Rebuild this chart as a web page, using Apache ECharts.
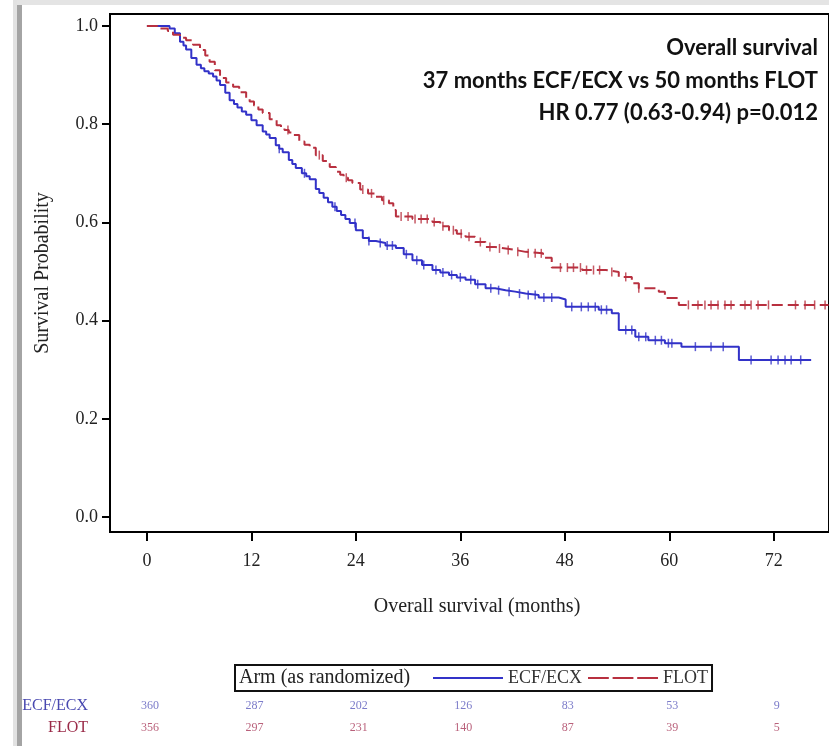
<!DOCTYPE html>
<html><head><meta charset="utf-8">
<script src="https://cdn.jsdelivr.net/npm/echarts@6/dist/echarts.min.js"></script>
<style>html,body{margin:0;padding:0;background:#fff}#c{width:829px;height:746px}</style>
</head><body><div id="c"></div>
<script>
// ---- data ----
const xTicks = [0, 12, 24, 36, 48, 60, 72];
const yTicks = [0, 0.2, 0.4, 0.6, 0.8, 1.0];
const armNames = ['ECF/ECX', 'FLOT'];
const ecfCurve = [[0,1.0],[1.5,1.0],[2.6,0.995],[3.2,0.985],[3.8,0.968],[4.2,0.96],[4.5,0.952],[5.1,0.935],[5.7,0.921],[6.2,0.914],[6.6,0.908],[7.1,0.903],[7.6,0.897],[8.0,0.889],[8.4,0.880],[9.0,0.864],[9.5,0.849],[10.0,0.841],[10.4,0.834],[10.9,0.826],[11.4,0.819],[12.0,0.808],[12.6,0.798],[13.3,0.785],[13.7,0.779],[14.1,0.772],[14.8,0.757],[15.2,0.75],[15.6,0.743],[16.3,0.727],[16.7,0.719],[17.1,0.711],[17.8,0.700],[18.3,0.694],[18.7,0.688],[19.4,0.668],[19.8,0.66],[20.3,0.650],[20.8,0.641],[21.3,0.632],[21.8,0.623],[22.3,0.615],[22.8,0.607],[23.3,0.599],[24.0,0.584],[24.8,0.568],[25.5,0.562],[26.3,0.558],[27.4,0.553],[28.6,0.548],[29.5,0.535],[30.5,0.523],[31.6,0.513],[32.8,0.503],[33.7,0.498],[34.7,0.493],[35.6,0.488],[36.6,0.483],[37.7,0.474],[38.9,0.466],[40.0,0.462],[41.2,0.459],[42.3,0.455],[43.5,0.452],[45.0,0.447],[47.3,0.443],[48.1,0.428],[51.9,0.422],[53.4,0.415],[54.2,0.381],[56.1,0.367],[57.6,0.360],[59.5,0.354],[61.4,0.347],[68.0,0.320],[76.3,0.320]];
const flotCurve = [[0,1.0],[1.2,0.995],[2.4,0.99],[3.0,0.982],[3.8,0.976],[4.5,0.971],[5.3,0.962],[6.1,0.951],[6.7,0.94],[7.2,0.927],[7.8,0.91],[8.4,0.894],[9.1,0.885],[9.9,0.876],[10.6,0.865],[11.4,0.853],[11.8,0.846],[12.3,0.838],[12.8,0.83],[13.3,0.823],[14.1,0.81],[14.9,0.798],[15.4,0.793],[15.8,0.788],[16.3,0.783],[16.8,0.778],[17.5,0.765],[18.1,0.758],[18.7,0.752],[19.4,0.737],[20.2,0.725],[21.0,0.713],[21.7,0.703],[22.2,0.697],[22.6,0.691],[23.1,0.686],[23.6,0.680],[24.5,0.667],[25.4,0.659],[26.3,0.652],[27.0,0.645],[27.8,0.639],[28.3,0.625],[28.6,0.612],[30.5,0.607],[32.8,0.601],[33.7,0.592],[34.7,0.584],[35.6,0.577],[36.6,0.571],[37.7,0.560],[38.9,0.550],[40.0,0.547],[41.2,0.544],[42.3,0.540],[43.5,0.537],[45.5,0.528],[46.5,0.508],[50.0,0.503],[52.7,0.499],[54.2,0.489],[55.7,0.476],[56.5,0.466],[58.8,0.459],[59.5,0.446],[61.1,0.432],[78.3,0.432]];
const ecfCensorTimes = [15.2,18.1,21.6,23.9,25.5,26.8,27.6,28.2,29.8,31.0,31.8,33.2,34.0,35.0,36.0,37.2,38.0,39.5,40.4,41.6,42.8,43.8,44.6,45.6,46.5,48.8,49.9,50.7,51.5,52.2,52.8,55.0,55.7,56.5,57.3,58.4,59.1,59.9,60.3,63.0,64.8,66.2,69.4,71.7,72.5,73.3,74.0,75.1];
const flotCensorTimes = [16.2,19.8,22.9,24.8,25.8,27.2,29.2,30.0,30.8,31.5,32.2,33.0,34.0,35.2,36.1,37.0,38.3,39.4,40.5,41.5,42.6,43.8,44.6,45.3,47.5,48.3,49.0,49.8,50.5,51.3,52.0,53.4,55.0,56.5,62.2,63.3,64.1,64.8,65.6,66.4,67.1,68.7,69.4,70.2,71.4,74.5,75.6,76.7,77.9];
const riskTimes = [0, 12, 24, 36, 48, 60, 72];
const ecfAtRisk = [360, 287, 202, 126, 83, 53, 9];
const flotAtRisk = [356, 297, 231, 140, 87, 39, 5];
const annotationLines = ['Overall survival', '37 months ECF/ECX vs 50 months FLOT', 'HR 0.77 (0.63-0.94) p=0.012'];
const legendTitle = 'Arm (as randomized)';
const xTitle = 'Overall survival (months)';
const yTitle = 'Survival Probability';

// ---- styling ----
const BLUE = '#3232c8', RED = '#b8303f';
const SERIF = '"Liberation Serif", "Times New Roman", serif';
const X_MIN = -4.24, X_MAX = 78.35, Y_MIN = -0.0305, Y_MAX = 1.0244;

function survAt(curve, t) {
  let v = curve[0][1];
  for (const p of curve) { if (p[0] <= t) v = p[1]; else break; }
  return v;
}

const chart = echarts.init(document.getElementById('c'), null, {renderer: 'canvas'});
const option = {
  animation: false,
  backgroundColor: '#fff',
  grid: [
    {left: 110, right: -2, top: 14, bottom: 214, show: true, borderColor: '#000', borderWidth: 2},
    {left: 110, right: -2, top: 695, height: 44}
  ],
  xAxis: [
    {type: 'value', gridIndex: 0, min: X_MIN, max: X_MAX,
     name: xTitle, nameLocation: 'middle', nameGap: 65,
     nameTextStyle: {fontFamily: SERIF, fontSize: 20, color: '#222', padding: [0, 0, 0, 15]},
     axisLine: {show: true, onZero: false, lineStyle: {color: '#000', width: 2}},
     axisTick: {show: true, customValues: xTicks, length: 9, lineStyle: {color: '#000', width: 2}},
     axisLabel: {customValues: xTicks, margin: 20, fontFamily: SERIF, fontSize: 18, color: '#222'},
     splitLine: {show: false}},
    {type: 'value', gridIndex: 1, min: X_MIN, max: X_MAX, show: false}
  ],
  yAxis: [
    {type: 'value', gridIndex: 0, min: Y_MIN, max: Y_MAX,
     name: yTitle, nameLocation: 'middle', nameGap: 57, nameRotate: 90,
     nameTextStyle: {fontFamily: SERIF, fontSize: 20, color: '#222'},
     axisLine: {show: true, onZero: false, lineStyle: {color: '#000', width: 2}},
     axisTick: {show: true, customValues: yTicks, length: 8, lineStyle: {color: '#000', width: 2}},
     axisLabel: {customValues: yTicks, margin: 12, fontFamily: SERIF, fontSize: 18, color: '#222',
                 formatter: v => v.toFixed(1)},
     splitLine: {show: false}},
    {type: 'category', gridIndex: 1, data: ['FLOT', 'ECF/ECX'],
     axisLine: {show: false}, axisTick: {show: false},
     axisLabel: {margin: 22, fontFamily: SERIF, fontSize: 16,
       formatter: v => v === 'FLOT' ? '{r|' + v + '}' : '{b|' + v + '}',
       rich: {b: {color: '#4848b0', fontFamily: SERIF, fontSize: 16}, r: {color: '#9a2a48', fontFamily: SERIF, fontSize: 16}}}}
  ],
  legend: {
    data: [
      {name: armNames[0], icon: 'rect'},
      {name: armNames[1], icon: 'path://M0,0h22v2h-22z M26,0h22v2h-22z M52,0h22v2h-22z'}
    ],
    left: 235, top: 665, orient: 'horizontal',
    itemWidth: 70, itemHeight: 2, itemGap: 6, symbolKeepAspect: false,
    padding: [4, 4, 4, 198],
    borderColor: '#111', borderWidth: 2,
    textStyle: {fontFamily: SERIF, fontSize: 18, color: '#333'}
  },
  graphic: [
    {type: 'rect', shape: {x: 13, y: 0, width: 4, height: 746}, style: {fill: '#e2e2e2'}, silent: true},
    {type: 'rect', shape: {x: 17, y: 4, width: 5, height: 742}, style: {fill: '#a4a4a4'}, silent: true},
    {type: 'rect', shape: {x: 17, y: 0, width: 812, height: 5}, style: {fill: '#e4e4e4'}, silent: true},
    {type: 'text', x: 239, y: 678, style: {text: legendTitle, font: '20px ' + SERIF, fill: '#222', textVerticalAlign: 'middle'}},
    ...annotationLines.map((t, i) => ({type: 'text', x: 818, y: 48 + i * 32.5,
       style: {text: t, font: 'bold 22px Lato, "Open Sans", sans-serif', fill: '#111', textAlign: 'right', textVerticalAlign: 'middle'}}))
  ],
  series: [
    {name: armNames[0], type: 'line', step: 'end', xAxisIndex: 0, yAxisIndex: 0, data: ecfCurve,
     showSymbol: false, color: BLUE, lineStyle: {color: BLUE, width: 2}, z: 3},
    {name: armNames[1], type: 'line', step: 'end', xAxisIndex: 0, yAxisIndex: 0, data: flotCurve,
     showSymbol: false, color: RED, lineStyle: {color: RED, width: 2, type: [11, 5]}, z: 3},
    {name: 'ECF/ECX censored', type: 'scatter', xAxisIndex: 0, yAxisIndex: 0,
     data: ecfCensorTimes.map(t => [t, survAt(ecfCurve, t)]),
     symbol: 'rect', symbolSize: [1.5, 9], itemStyle: {color: BLUE}, silent: true, z: 4},
    {name: 'FLOT censored', type: 'scatter', xAxisIndex: 0, yAxisIndex: 0,
     data: flotCensorTimes.map(t => [t, survAt(flotCurve, t)]),
     symbol: 'rect', symbolSize: [1.5, 9], itemStyle: {color: RED}, silent: true, z: 4},
    {name: 'ECF/ECX at risk', type: 'scatter', xAxisIndex: 1, yAxisIndex: 1,
     data: riskTimes.map((t, i) => [t, 'ECF/ECX', ecfAtRisk[i]]),
     symbolSize: 0, silent: true,
     label: {show: true, position: 'inside', offset: [3, 0], formatter: p => String(p.value[2]),
             fontFamily: SERIF, fontSize: 12, color: '#5a5abb'}},
    {name: 'FLOT at risk', type: 'scatter', xAxisIndex: 1, yAxisIndex: 1,
     data: riskTimes.map((t, i) => [t, 'FLOT', flotAtRisk[i]]),
     symbolSize: 0, silent: true,
     label: {show: true, position: 'inside', offset: [3, 0], formatter: p => String(p.value[2]),
             fontFamily: SERIF, fontSize: 12, color: '#a83a5a'}}
  ]
};
chart.setOption(option);
</script>
</body></html>
